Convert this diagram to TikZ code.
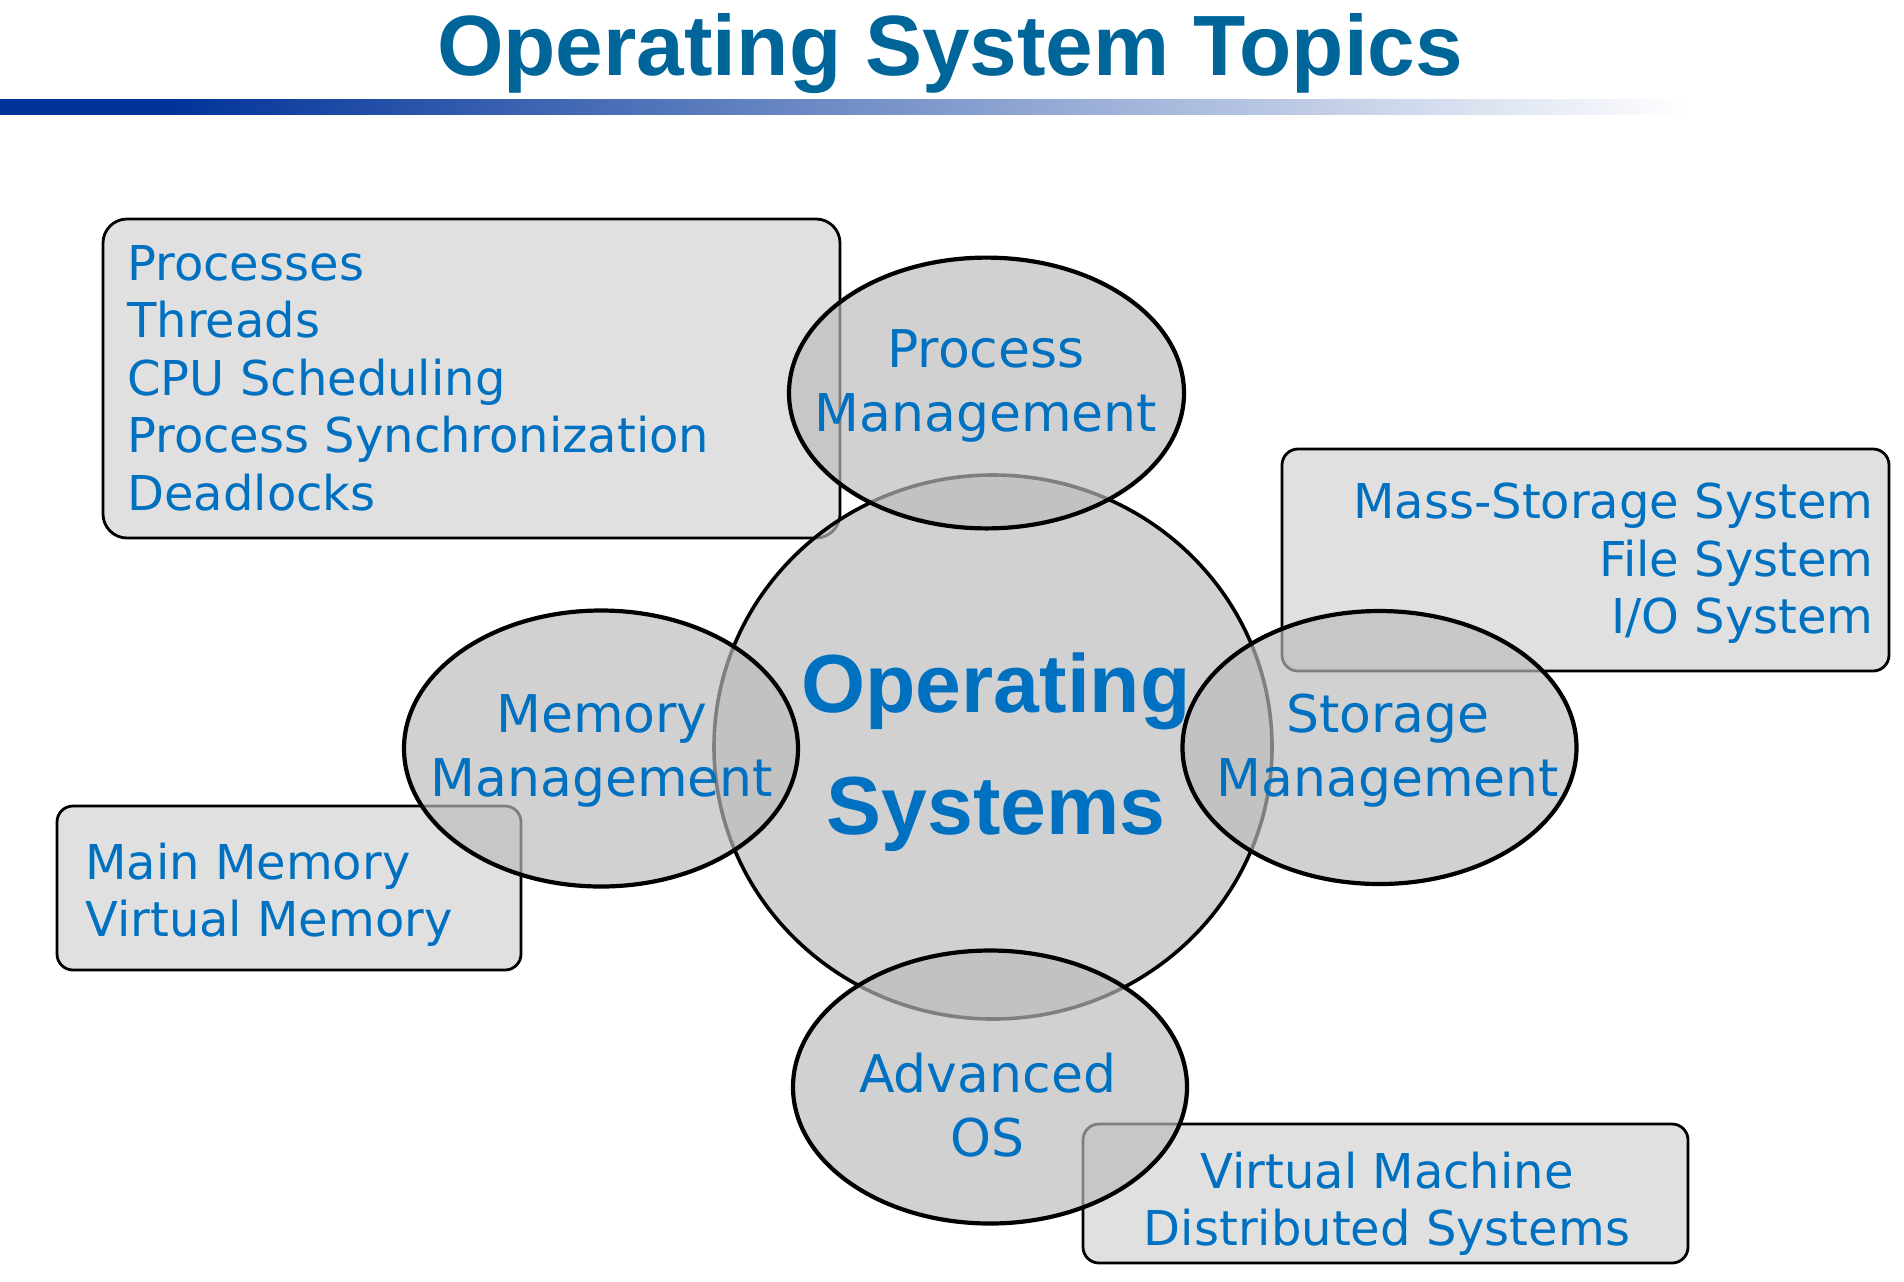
\documentclass[tikz,border=0pt]{standalone}
\usepackage{fontspec}
\setmainfont{DejaVu Sans}
\newfontfamily\arialbold{Liberation Sans}[BoldFont={* Bold}]
\usetikzlibrary{shapes.geometric}
\definecolor{titleblue}{RGB}{0,102,153}
\definecolor{textblue}{RGB}{0,112,192}
\definecolor{barblue}{RGB}{0,51,153}
\definecolor{bubblegray}{RGB}{188,188,188}
\definecolor{boxfill}{RGB}{224,224,224}
\pgfdeclarehorizontalshading{barfade}{100bp}{color(0bp)=(barblue); color(25bp)=(barblue); color(30bp)=(barblue); color(75bp)=(white); color(100bp)=(white)}
\begin{document}
\begin{tikzpicture}[x=0.5pt,y=-0.5pt,
  bubble/.style={ellipse, draw=black, line width=2.1pt, fill=bubblegray, fill opacity=0.68, inner sep=0pt},
  topicbox/.style={rectangle, rounded corners=8pt, draw=black, line width=1.4pt, fill=boxfill, inner sep=0pt},
  lbl/.style={text=textblue, inner sep=0pt, font=\fontsize{26}{32}\selectfont},
  itemtext/.style={text=textblue, inner sep=0pt, font=\fontsize{24}{28.75}\selectfont},
]
\useasboundingbox (0,0) rectangle (1904,1281);
\fill[white] (0,0) rectangle (1904,1281);

% title and bar
\node[anchor=base, inner sep=0pt, text=titleblue, font=\arialbold\bfseries\fontsize{42.8}{50}\selectfont] (title) at (950,75) {Operating System Topics};
\shade[shading=barfade] (0,99.6) rectangle (1690,114);

% boxes
\node[topicbox, rounded corners=12pt, minimum width=368.5pt, minimum height=159.5pt] (boxpm) at (471.5,378.5) {};
\node[topicbox, minimum width=303.5pt, minimum height=111pt] (boxsm) at (1585.5,560) {};
\node[topicbox, minimum width=232pt, minimum height=82pt] (boxmm) at (289,888) {};
\node[topicbox, minimum width=302.5pt, minimum height=69.5pt] (boxadv) at (1385.5,1193.5) {};

% main circle
\node[bubble, line width=1.8pt, minimum width=279pt, minimum height=272pt] (os) at (993,747) {};

% topic ellipses
\node[bubble, minimum width=197.5pt, minimum height=135.4pt] (pm) at (986.5,393) {};
\node[bubble, minimum width=197pt, minimum height=138pt] (mm) at (601,748.5) {};
\node[bubble, minimum width=197pt, minimum height=136.5pt] (sm) at (1379.5,747.5) {};
\node[bubble, minimum width=197pt, minimum height=136.5pt] (adv) at (990,1087) {};

% texts
\node[anchor=base, inner sep=0pt, text=textblue, font=\arialbold\bfseries\fontsize{41.2}{61}\selectfont] (ostext) at (996,712.7)
  {\begin{tabular}[t]{@{}c@{}}Operating\\Systems\end{tabular}};

\node[lbl, anchor=base] (pmtext) at (986,367.7) {\begin{tabular}[t]{@{}c@{}}Process\\Management\end{tabular}};
\node[lbl, anchor=base] (mmtext) at (602,732) {\begin{tabular}[t]{@{}c@{}}Memory\\Management\end{tabular}};
\node[lbl, anchor=base] (smtext) at (1388,732) {\begin{tabular}[t]{@{}c@{}}Storage\\Management\end{tabular}};
\node[lbl, anchor=base] (advtext) at (987.5,1092.7) {\begin{tabular}[t]{@{}c@{}}Advanced\\OS\end{tabular}};

\node[itemtext, anchor=base west] (pmitems) at (127,280)
  {\begin{tabular}[t]{@{}l@{}}Processes\\Threads\\CPU Scheduling\\Process Synchronization\\Deadlocks\end{tabular}};
\node[itemtext, anchor=base east] (smitems) at (1874,518.5)
  {\begin{tabular}[t]{@{}r@{}}Mass-Storage System\\File System\\I/O System\end{tabular}};
\node[itemtext, anchor=base west] (mmitems) at (85,879)
  {\begin{tabular}[t]{@{}l@{}}Main Memory\\Virtual Memory\end{tabular}};
\node[itemtext, anchor=base] (advitems) at (1387,1188)
  {\begin{tabular}[t]{@{}c@{}}Virtual Machine\\Distributed Systems\end{tabular}};
\end{tikzpicture}
\end{document}
